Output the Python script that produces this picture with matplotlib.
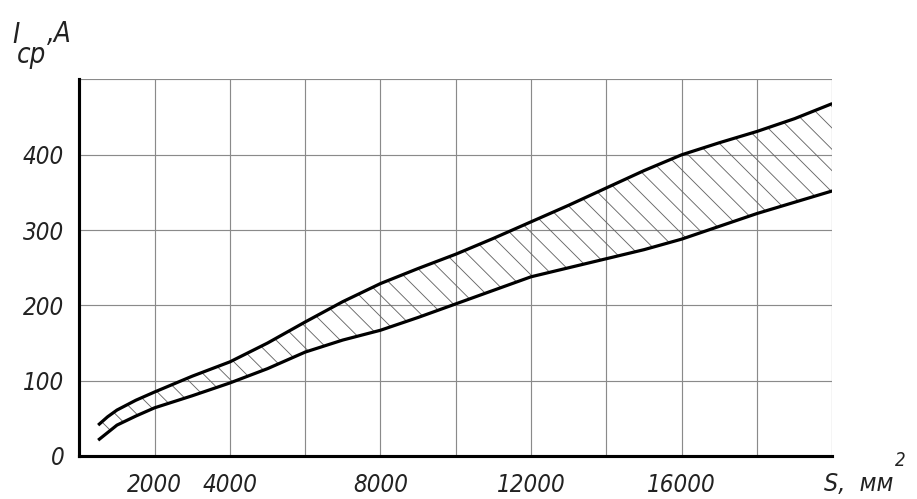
import matplotlib
matplotlib.use("Agg")
import matplotlib.pyplot as plt

# Cross-section S (mm^2) vs average current I_cp (A): band between two curves
s_values = [500, 750, 1000, 1500, 2000, 3000, 4000, 5000, 6000, 7000, 8000, 9000,
            10000, 11000, 12000, 13000, 14000, 15000, 16000, 17000, 18000, 19000, 20000]
i_upper = [41, 52, 61, 74, 85, 106, 125, 150, 178, 205, 229, 249,
           268, 289, 311, 333, 356, 379, 400, 416, 431, 448, 468]
i_lower = [21, 31, 41, 53, 64, 80, 97, 116, 138, 154, 167, 184,
           202, 220, 238, 250, 262, 274, 288, 305, 322, 337, 352]

x_ticks = [2000, 4000, 8000, 12000, 16000]
y_ticks = [0, 100, 200, 300, 400]

DPI = 64  # hatch spacing scales with dpi
plt.rcParams['font.family'] = ['DejaVu Sans']
plt.rcParams['font.stretch'] = 'condensed'
plt.rcParams['hatch.color'] = '#666666'
plt.rcParams['hatch.linewidth'] = 1.0

fig = plt.figure(figsize=(917 / DPI, 499 / DPI), dpi=DPI)
ax = fig.add_axes([0.0865, 0.0862, 0.8211, 0.7545])

# grid
for gx in range(2000, 20001, 2000):
    ax.axvline(gx, color='#8a8a8a', lw=1.3, zorder=1)
for gy in range(100, 501, 100):
    ax.axhline(gy, color='#8a8a8a', lw=1.3, zorder=1)

ax.fill_between(s_values, i_lower, i_upper, facecolor='none',
                edgecolor='#666666', hatch='\\', linewidth=0, zorder=2)
ax.plot(s_values, i_upper, color='black', lw=3.6, solid_joinstyle='round',
        solid_capstyle='butt', zorder=3)
ax.plot(s_values, i_lower, color='black', lw=3.6, solid_joinstyle='round',
        solid_capstyle='butt', zorder=3)

ax.set_xlim(0, 20000)
ax.set_ylim(0, 500)

for side in ['top', 'right']:
    ax.spines[side].set_visible(False)
ax.spines['left'].set_linewidth(3.5)
ax.spines['bottom'].set_linewidth(3.5)

ax.set_xticks(x_ticks)
ax.set_xticklabels([str(v) for v in x_ticks])
ax.set_yticks(y_ticks)
ax.set_yticklabels([str(v) for v in y_ticks])
ax.tick_params(length=0, labelsize=27, colors='#222222')
ax.tick_params(axis='x', pad=19)
ax.tick_params(axis='y', pad=17)
for lbl in ax.get_xticklabels() + ax.get_yticklabels():
    lbl.set_fontstyle('italic')

# axis captions
fig.text(12 / 917, 1 - 43 / 499, 'I', fontsize=31, style='italic', color='#222222')
fig.text(17 / 917, 1 - 63 / 499, 'ср', fontsize=31, style='italic', color='#222222')
fig.text(47 / 917, 1 - 42 / 499, ',A', fontsize=31, style='italic', color='#222222')
fig.text(824 / 917, 1 - 491 / 499, 'S,  мм', fontsize=28, style='italic', color='#222222')
fig.text(895 / 917, 1 - 466 / 499, '2', fontsize=21, style='italic', color='#222222')

fig.savefig('out.png', dpi=DPI, facecolor='white')
